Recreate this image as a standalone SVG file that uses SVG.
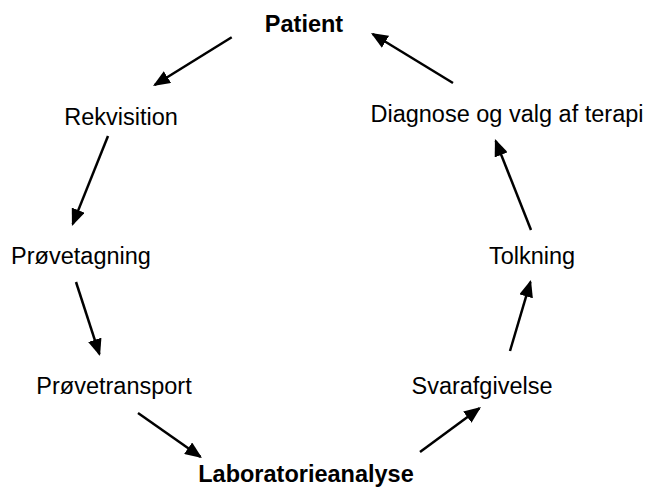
<svg xmlns="http://www.w3.org/2000/svg" width="647" height="494" viewBox="0 0 647 494">
<style>
text{font-family:"Liberation Sans",Arial,sans-serif;font-size:23.5px;fill:#000;text-anchor:middle}
.b{font-weight:bold}
#connectors line{stroke:#000;stroke-width:2.5;marker-end:url(#ah)}
</style>
<defs>
<marker id="ah" markerUnits="userSpaceOnUse" markerWidth="18" markerHeight="14" viewBox="0 0 18 14" refX="15" refY="7" orient="auto">
<path d="M0,0 L17,7 L0,14 z" fill="#000"/>
</marker>
</defs>
<rect width="647" height="494" fill="#fff"/>
<g id="patient"><text class="b" x="304" y="32">Patient</text></g>
<g id="rekvisition"><text x="121" y="125">Rekvisition</text></g>
<g id="provetagning"><text x="81" y="264">Prøvetagning</text></g>
<g id="provetransport"><text x="114" y="394">Prøvetransport</text></g>
<g id="laboratorieanalyse"><text class="b" x="306" y="482">Laboratorieanalyse</text></g>
<g id="svarafgivelse"><text x="482" y="394">Svarafgivelse</text></g>
<g id="tolkning"><text x="532" y="264">Tolkning</text></g>
<g id="diagnose"><text x="507" y="122">Diagnose og valg af terapi</text></g>
<g id="connectors">
<line x1="231.7" y1="37.3" x2="154.7" y2="85"/>
<line x1="108" y1="136" x2="72.7" y2="224.1"/>
<line x1="76" y1="282" x2="99.4" y2="354.1"/>
<line x1="138" y1="413" x2="200.4" y2="456.8"/>
<line x1="420" y1="452" x2="479.4" y2="408.2"/>
<line x1="510" y1="351" x2="530.4" y2="281.9"/>
<line x1="531" y1="230" x2="495.7" y2="140.9"/>
<line x1="453" y1="83" x2="372.7" y2="34"/>
</g>
</svg>
